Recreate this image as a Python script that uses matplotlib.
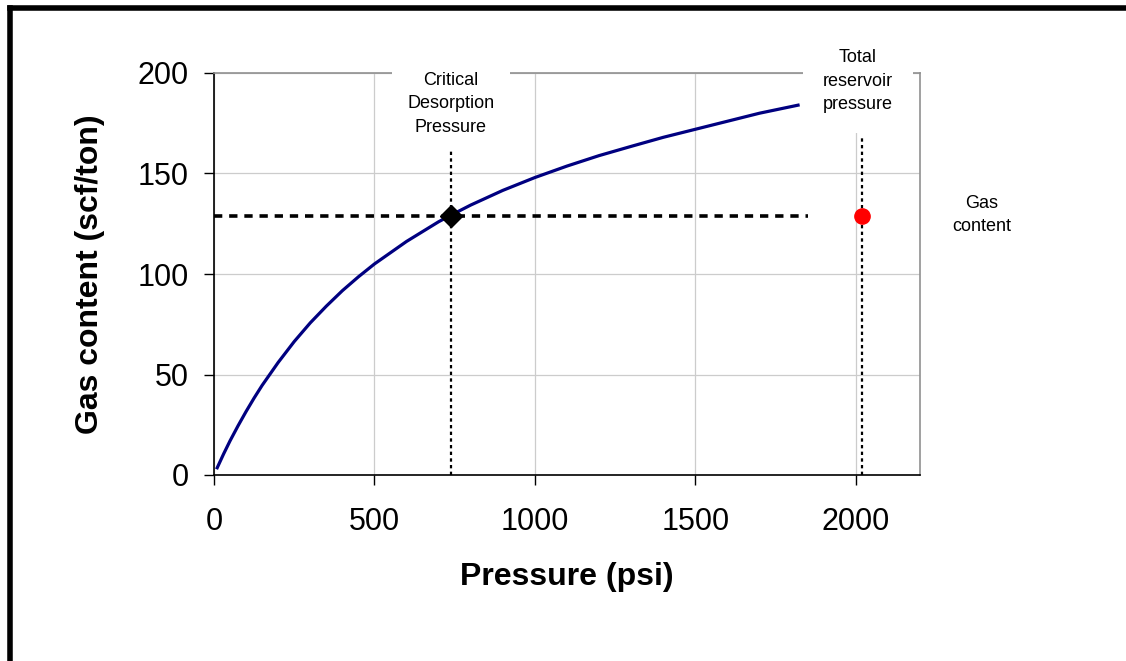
import matplotlib.pyplot as plt
from matplotlib.lines import Line2D

plt.rcParams['font.family'] = ['Liberation Sans', 'DejaVu Sans']

# isotherm
pressure = [10, 30, 50, 75, 100, 125, 150, 200, 250, 300, 350, 400, 450, 500,
            600, 700, 740, 800, 900, 1000, 1100, 1200, 1300, 1400, 1500, 1600,
            1700, 1820]
gas = [3.6, 10.5, 17, 24.5, 31.6, 38.3, 44.6, 56, 66.4, 75.7, 84, 91.7, 98.6, 105,
       116.2, 126, 129.4, 134.3, 141.6, 148, 153.7, 158.9, 163.5, 168, 172, 176,
       180, 184]

crit_p, crit_gas = 740, 129
res_p, res_gas = 2020, 129
dash_end = 1850
crit_line_top = 161
res_line_top = 168

xticks = [0, 500, 1000, 1500, 2000]
yticks = [0, 50, 100, 150, 200]

fig = plt.figure(figsize=(11.26, 6.61), dpi=100)
ax = fig.add_axes([214/1126, 1-475/661, (920-214)/1126, (475-73)/661])
ax.set_xlim(0, 2200)
ax.set_ylim(0, 200)
ax.set_xticks(xticks)
ax.set_yticks(yticks)
ax.grid(True, color='#cccccc', linewidth=0.9)
ax.set_axisbelow(True)
ax.tick_params(labelsize=22, length=7, width=1, pad=11)
ax.tick_params(axis='x', pad=16)

for s in ['top', 'right']:
    ax.spines[s].set_color('#909090')
    ax.spines[s].set_linewidth(1.2)
ax.spines['left'].set_linewidth(1.2)
ax.spines['bottom'].set_linewidth(1.2)

ax.plot(pressure, gas, color='#000080', linewidth=2.3, zorder=3)
ax.plot([0, dash_end], [crit_gas, crit_gas], color='black', linestyle=(0, (2.3, 1.9)),
        linewidth=2.6, zorder=2)
ax.plot([crit_p, crit_p], [0, crit_line_top], color='black', linestyle=(0, (1.5, 1.5)),
        linewidth=1.6, zorder=2)
ax.plot([res_p, res_p], [0, res_line_top], color='black', linestyle=(0, (1.5, 1.5)),
        linewidth=1.6, zorder=2)
ax.plot(crit_p, crit_gas, marker='D', color='black', markersize=11, zorder=4)
ax.plot(res_p, res_gas, marker='o', color='red', markersize=11, zorder=4,
        clip_on=False)

ax.set_xlabel('Pressure (psi)', fontsize=23, fontweight='bold', va='center')
ax.set_ylabel('Gas content (scf/ton)', fontsize=23, fontweight='bold', va='center')
ax.xaxis.set_label_coords(0.5, (475-577)/402)
ax.yaxis.set_label_coords((90-214)/706, 0.5)

txt = dict(fontsize=13, ha='center', va='center', linespacing=1.5)
fig.text(451/1126, 1-104/661, 'Critical\nDesorption\nPressure',
         bbox=dict(facecolor='white', edgecolor='none', pad=11), zorder=5, **txt)
fig.text(858/1126, 1-81/661, 'Total\nreservoir\npressure',
         bbox=dict(facecolor='white', edgecolor='none', pad=14), zorder=5, **txt)
fig.text(982/1126, 1-215/661, 'Gas\ncontent', **txt)

# outer frame: top and left only
fig.add_artist(Line2D([10/1126, 1], [1-8/661, 1-8/661], color='black', linewidth=4,
                      transform=fig.transFigure))
fig.add_artist(Line2D([10/1126, 10/1126], [0, 1-8/661], color='black', linewidth=4,
                      transform=fig.transFigure))

fig.savefig('out.png', dpi=100)
